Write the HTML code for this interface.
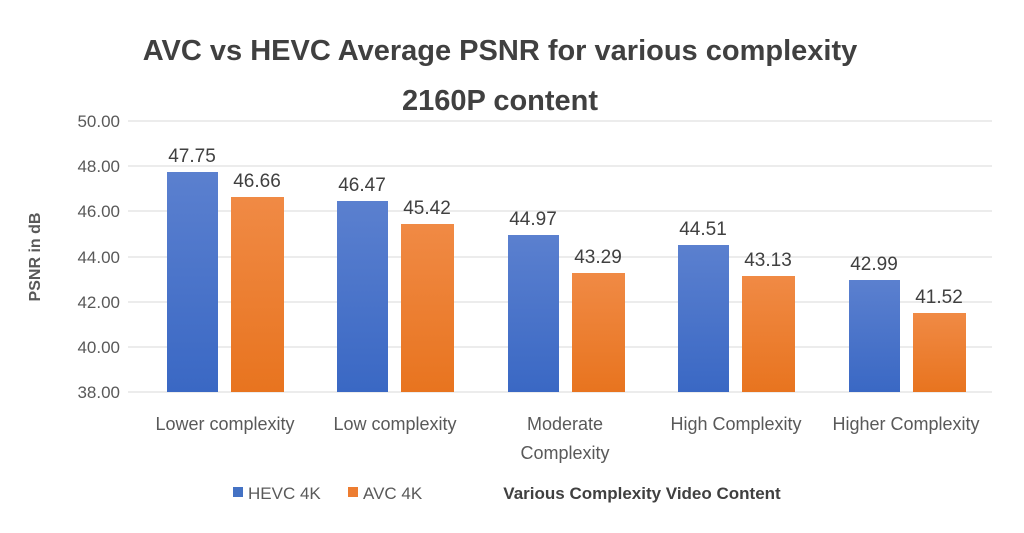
<!DOCTYPE html>
<html><head><meta charset="utf-8"><style>body{margin:0;background:#fff}svg{display:block}</style></head><body>
<svg width="1024" height="533" xmlns="http://www.w3.org/2000/svg" font-family="Liberation Sans, sans-serif">
<defs>
<linearGradient id="b" x1="0" y1="0" x2="0" y2="1"><stop offset="0" stop-color="#5b80cf"/><stop offset="1" stop-color="#3a68c4"/></linearGradient>
<linearGradient id="o" x1="0" y1="0" x2="0" y2="1"><stop offset="0" stop-color="#f08a45"/><stop offset="1" stop-color="#e8741f"/></linearGradient>
</defs>
<rect width="1024" height="533" fill="#fff"/>
<g fill="#404040" font-weight="bold" font-size="29" text-anchor="middle">
<text x="500" y="60">AVC vs HEVC Average PSNR for various complexity</text>
<text x="500" y="110">2160P content</text>
</g>
<g stroke="#d9d9d9" stroke-width="1">
<line x1="128" x2="992" y1="121" y2="121"/><line x1="128" x2="992" y1="166" y2="166"/>
<line x1="128" x2="992" y1="211" y2="211"/><line x1="128" x2="992" y1="257" y2="257"/>
<line x1="128" x2="992" y1="302" y2="302"/><line x1="128" x2="992" y1="347" y2="347"/>
<line x1="128" x2="992" y1="392" y2="392"/>
</g>
<g fill="#595959" font-size="17" text-anchor="end">
<text x="120" y="127">50.00</text><text x="120" y="172">48.00</text><text x="120" y="217">46.00</text>
<text x="120" y="263">44.00</text><text x="120" y="308">42.00</text><text x="120" y="353">40.00</text>
<text x="120" y="398">38.00</text>
</g>
<text transform="translate(40,257) rotate(-90)" fill="#595959" font-size="16" font-weight="bold" text-anchor="middle">PSNR in dB</text>
<g>
<rect x="167" y="172" width="51" height="220" fill="url(#b)"/><rect x="231" y="197" width="53" height="195" fill="url(#o)"/>
<rect x="337" y="201" width="51" height="191" fill="url(#b)"/><rect x="401" y="224" width="53" height="168" fill="url(#o)"/>
<rect x="508" y="235" width="51" height="157" fill="url(#b)"/><rect x="572" y="273" width="53" height="119" fill="url(#o)"/>
<rect x="678" y="245" width="51" height="147" fill="url(#b)"/><rect x="742" y="276" width="53" height="116" fill="url(#o)"/>
<rect x="849" y="280" width="51" height="112" fill="url(#b)"/><rect x="913" y="313" width="53" height="79" fill="url(#o)"/>
</g>
<g fill="#404040" font-size="19" text-anchor="middle">
<text x="192" y="162">47.75</text><text x="257" y="187">46.66</text>
<text x="362" y="191">46.47</text><text x="427" y="214">45.42</text>
<text x="533" y="225">44.97</text><text x="598" y="263">43.29</text>
<text x="703" y="235">44.51</text><text x="768" y="266">43.13</text>
<text x="874" y="270">42.99</text><text x="939" y="303">41.52</text>
</g>
<g fill="#595959" font-size="18" text-anchor="middle">
<text x="225" y="430">Lower complexity</text>
<text x="395" y="430">Low complexity</text>
<text x="565" y="430">Moderate</text><text x="565" y="459">Complexity</text>
<text x="736" y="430">High Complexity</text>
<text x="906" y="430">Higher Complexity</text>
</g>
<rect x="233" y="487" width="10" height="10" fill="#4472c4"/>
<text x="248" y="499" fill="#595959" font-size="17">HEVC 4K</text>
<rect x="348" y="487" width="10" height="10" fill="#ed7d31"/>
<text x="363" y="499" fill="#595959" font-size="17">AVC 4K</text>
<text x="642" y="499" fill="#404040" font-size="17" font-weight="bold" text-anchor="middle">Various Complexity Video Content</text>
</svg>
</body></html>
